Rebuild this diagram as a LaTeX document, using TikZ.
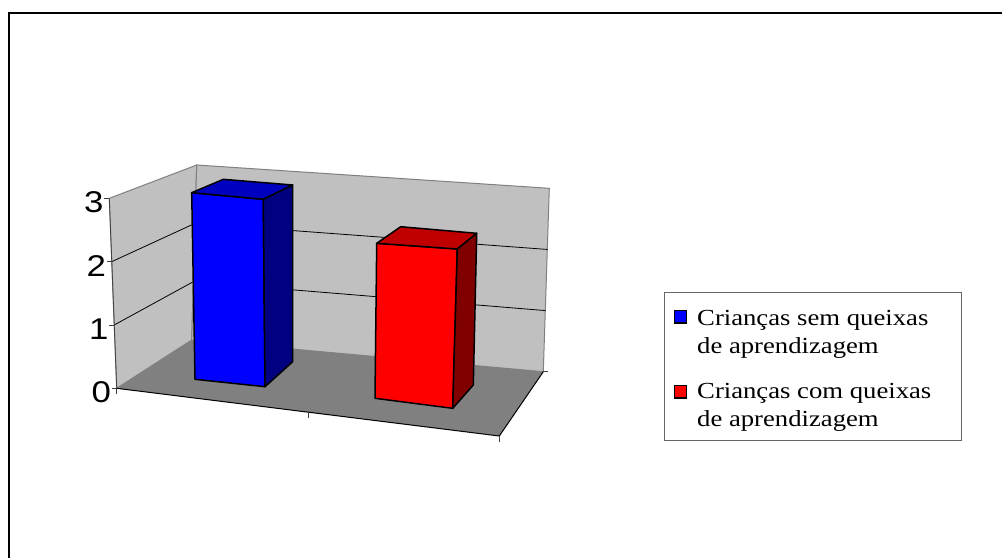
\documentclass[tikz,border=0pt]{standalone}
\usepackage{graphicx}
\usepackage{fontspec}
\setmainfont{Liberation Serif}
\newfontfamily\axisfont{Liberation Sans}
\usepackage{tikz}
\usetikzlibrary{calc}
\definecolor{wallgray}{HTML}{C0C0C0}
\definecolor{floorgray}{HTML}{808080}
\definecolor{bluetop}{HTML}{0000C0}
\definecolor{blueside}{HTML}{000080}
\definecolor{redtop}{HTML}{C00000}
\definecolor{redside}{HTML}{800000}
\newcommand{\wide}[1]{\scalebox{1.16}[1]{#1}}

\begin{document}
\begin{tikzpicture}[x=1pt,y=-1pt,wall/.style={fill=wallgray, draw=floorgray, line width=1pt},grid/.style={black, line width=0.8pt},bar/.style={draw=black, line width=1.5pt, line join=round},tick/.style={draw=black!75, line width=0.8pt},val/.style={anchor=east, inner sep=0pt, font=\axisfont\fontsize{30}{30}\selectfont},legtext/.style={anchor=base west, inner sep=0pt, font=\fontsize{23}{28}\selectfont},key/.style={draw=black, line width=1.5pt}]
  \useasboundingbox (0,0) rectangle (1002,558);
  \draw[line width=2pt] (9,558) -- (9,12.7) -- (1002,12.7);
  \coordinate (a0) at (116.7,388.3);
  \coordinate (a3) at (109.3,198.3);
  \coordinate (bl0) at (191.7,340);
  \coordinate (bl3) at (196.7,165);
  \coordinate (br0) at (543.3,371.7);
  \coordinate (br3) at (549.3,188.3);
  \coordinate (fr0) at (499.3,436);
  \draw[wall] (a0) -- (a3) -- (bl3) -- (bl0) -- cycle;
  \draw[wall] (bl0) -- (bl3) -- (br3) -- (br0) -- cycle;
  \fill[floorgray] (a0) -- (bl0) -- (br0) -- (fr0) -- cycle;
  \draw[black, line width=1pt] (a0) -- (fr0) -- (br0);
  \foreach \k in {1,2}
    \draw[grid] ($(a0)!\k/3!(a3)$) -- ($(bl0)!\k/3!(bl3)$) -- ($(br0)!\k/3!(br3)$);
  \draw[tick] (a0) -- (a3);
  \foreach \k in {0,1,2,3} {
    \draw[tick] ($(a0)!\k/3!(a3)$) coordinate (t\k) -- ++(-5,0);
    \node[val] (v\k) at ($(t\k)+(-5.5,4)$) {\wide{\k}};
  }
  \draw[tick] (a0) -- ++(0,6);
  \draw[tick] ($(a0)!.5!(fr0)$) -- ++(0,6);
  \draw[tick] (fr0) -- ++(0,6);
  \draw[tick] (br0) -- ++(5,0);
  \coordinate (bf1) at (191.7,192.7);
  \coordinate (bf2) at (263.3,199.3);
  \coordinate (bf3) at (265,386.7);
  \coordinate (bf4) at (195,379.3);
  \coordinate (bt1) at (223.3,179.3);
  \coordinate (bt2) at (292.7,185);
  \coordinate (bs) at (292.7,361.7);
  \filldraw[bar, fill=blue] (bf1) -- (bf2) -- (bf3) -- (bf4) -- cycle;
  \filldraw[bar, fill=bluetop] (bf1) -- (bt1) -- (bt2) -- (bf2) -- cycle;
  \filldraw[bar, fill=blueside] (bf2) -- (bt2) -- (bs) -- (bf3) -- cycle;
  \coordinate (rf1) at (376.7,243.3);
  \coordinate (rf2) at (457.3,249);
  \coordinate (rf3) at (452.7,408.3);
  \coordinate (rf4) at (375,398.3);
  \coordinate (rt1) at (400.7,226.7);
  \coordinate (rt2) at (476.7,233.3);
  \coordinate (rs) at (473.3,385);
  \filldraw[bar, fill=red] (rf1) -- (rf2) -- (rf3) -- (rf4) -- cycle;
  \filldraw[bar, fill=redtop] (rf1) -- (rt1) -- (rt2) -- (rf2) -- cycle;
  \filldraw[bar, fill=redside] (rf2) -- (rt2) -- (rs) -- (rf3) -- cycle;
  \draw[draw=black!60, line width=1pt] (664.5,292.5) rectangle (961.7,440.7);
  \filldraw[key, fill=blue] (674.5,310.5) rectangle (686.5,323);
  \filldraw[key, fill=red] (674.5,385.5) rectangle (686.5,398);
  \node[legtext] (l1a) at (697,325) {\wide{Crianças sem queixas}};
  \node[legtext] (l1b) at (697,353) {\wide{de aprendizagem}};
  \node[legtext] (l2a) at (697,398) {\wide{Crianças com queixas}};
  \node[legtext] (l2b) at (697,426.7) {\wide{de aprendizagem}};
\end{tikzpicture}
\end{document}
